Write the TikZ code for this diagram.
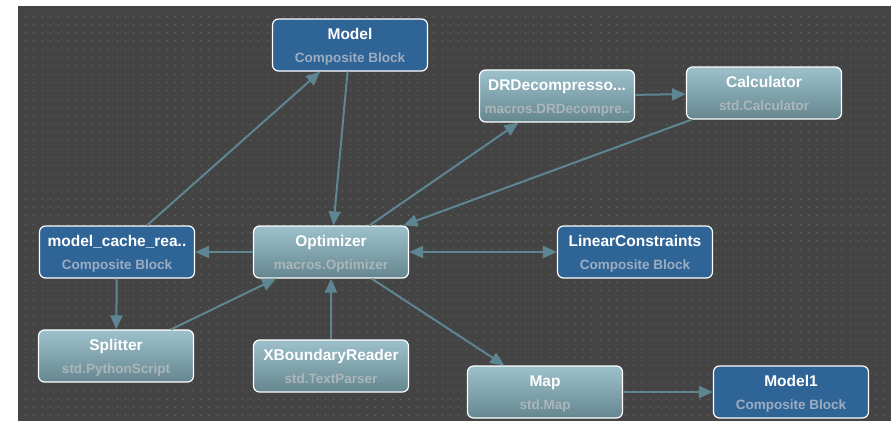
\documentclass[tikz,border=0pt]{standalone}
\usepackage{amsmath}
\usepackage{fontspec}
\setmainfont{Liberation Sans}
\usepackage{xcolor}
\usetikzlibrary{arrows.meta}

\definecolor{canvas}{HTML}{444444}
\definecolor{griddot}{HTML}{6C6C6C}
\definecolor{wire}{HTML}{5E8692}
\definecolor{compblue}{HTML}{2F6497}
\definecolor{stdtop}{HTML}{9DC1CC}
\definecolor{stdbottom}{HTML}{65868F}
\definecolor{stdsub}{HTML}{ABB6BA}
\definecolor{compsub}{HTML}{9DADC0}

% block name on top, block type below it
\newcommand{\blocktext}[2]{#1\vphantom{Mdp}\\{\fontsize{13.5}{23}\selectfont\color{subtext}\smash[b]{#2}\vphantom{M}}}

\begin{document}
\begin{tikzpicture}[x=1pt, y=-1pt]
    % Setup the style for the blocks
        \tikzset{block/.style={rectangle,
                               rounded corners=6pt,
                               draw=white,
                               line width=1.2pt,
                               minimum width=155pt,
                               minimum height=52pt,
                               inner sep=0pt,
                               align=center,
                               text=white,
                               font=\fontsize{15.5}{23}\selectfont\bfseries},
                 std block/.style={block,
                                   top color=stdtop,
                                   bottom color=stdbottom,
                                   execute at begin node={\colorlet{subtext}{stdsub}}},
                 comp block/.style={block,
                                    fill=compblue,
                                    execute at begin node={\colorlet{subtext}{compsub}}}}
        \useasboundingbox (0,0) rectangle (891,421);
        % Canvas with its dot grid
        \fill[canvas] (18,6) rectangle (891,421);
        \foreach \y in {16,24.33,...,421}
            \draw[griddot, line width=1pt, dash pattern=on 1pt off 7.33pt] (25,\y) -- (891,\y);
        % Draw the blocks
        \node[comp block] at (350, 45)  (model)  {\blocktext{Model}{Composite Block}};
        \node[std block]  at (557, 96)  (drdec)  {\blocktext{DRDecompresso...}{macros.DRDecompre..}};
        \node[std block]  at (764, 93)  (calc)   {\blocktext{Calculator}{std.Calculator}};
        \node[comp block] at (117, 252) (cache)  {\blocktext{model\_cache\_rea..}{Composite Block}};
        \node[std block]  at (331, 252) (opt)    {\blocktext{Optimizer}{macros.Optimizer}};
        \node[comp block] at (635, 252) (linear) {\blocktext{LinearConstraints}{Composite Block}};
        \node[std block]  at (116, 356) (split)  {\blocktext{Splitter}{std.PythonScript}};
        \node[std block]  at (331, 366) (xbound) {\blocktext{XBoundaryReader}{std.TextParser}};
        \node[std block]  at (545, 392) (mapblk) {\blocktext{Map}{std.Map}};
        \node[comp block] at (791, 392) (model1) {\blocktext{Model1}{Composite Block}};
        % Connect the blocks with arrows
        \draw[->,
              >={Triangle[length=14pt, width=12pt]},
              line width=2pt,
              draw=wire,
              fill=wire]
            (cache)  edge (model)
            (model)  edge (opt)
            (opt)    edge (drdec)
            (drdec)  edge (calc)
            (calc)   edge (opt)
            (opt)    edge (cache)
            (opt)    edge[<->] (linear)
            (cache)  edge (split)
            (split)  edge (opt)
            (xbound) edge (opt)
            (opt)    edge (mapblk)
            (mapblk) edge (model1);
\end{tikzpicture}
\end{document}
